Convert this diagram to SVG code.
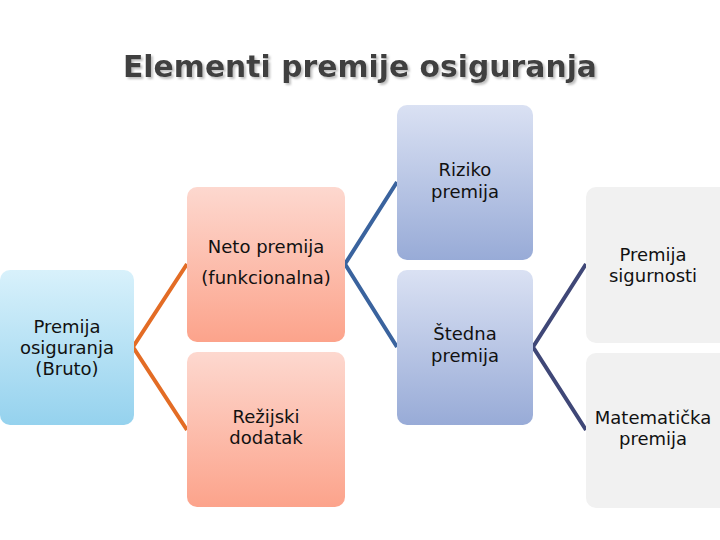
<svg xmlns="http://www.w3.org/2000/svg" width="720" height="540" viewBox="0 0 720 540">
<defs>
<linearGradient id="gBlue" x1="0" y1="0" x2="0" y2="1"><stop offset="0" stop-color="#d8f1fb"/><stop offset="1" stop-color="#95d2ee"/></linearGradient>
<linearGradient id="gSalmon" x1="0" y1="0" x2="0" y2="1"><stop offset="0" stop-color="#fdd8cf"/><stop offset="1" stop-color="#fca38b"/></linearGradient>
<linearGradient id="gPeri" x1="0" y1="0" x2="0" y2="1"><stop offset="0" stop-color="#dae1f3"/><stop offset="1" stop-color="#98abd7"/></linearGradient>
<filter id="sh" x="-5%" y="-20%" width="110%" height="150%"><feDropShadow dx="2" dy="2" stdDeviation="1" flood-color="#b0b0b0" flood-opacity="0.8"/></filter>
</defs>
<style>
.t{font-family:"DejaVu Sans","Verdana",sans-serif;font-size:18px;fill:#111;text-anchor:middle}
.title{font-family:"DejaVu Sans","Verdana",sans-serif;font-size:31px;font-weight:bold;fill:#3f3f3f;text-anchor:middle}
.c{fill:none;stroke-width:4;stroke-linejoin:miter}
</style>
<rect width="720" height="540" fill="#fff"/>
<text class="title" x="360" y="77" textLength="474" lengthAdjust="spacingAndGlyphs" filter="url(#sh)">Elementi premije osiguranja</text>
<g id="connectors">
<polyline class="c" stroke="#e36c25" points="187,264 133,347 187,430"/>
<polyline class="c" stroke="#3a639e" points="397,182 345,264 397,347"/>
<polyline class="c" stroke="#3f4777" points="586,264 533,347 586,430"/>
</g>
<g id="bruto">
<rect x="0" y="270" width="134" height="155" rx="10" fill="url(#gBlue)"/>
<text class="t" x="67" y="333">Premija</text>
<text class="t" x="67" y="354">osiguranja</text>
<text class="t" x="67" y="375">(Bruto)</text>
</g>
<g id="neto">
<rect x="187" y="187" width="158" height="155" rx="10" fill="url(#gSalmon)"/>
<text class="t" x="266" y="253">Neto premija</text>
<text class="t" x="266" y="284">(funkcionalna)</text>
</g>
<g id="rezijski">
<rect x="187" y="352" width="158" height="155" rx="10" fill="url(#gSalmon)"/>
<text class="t" x="266" y="423">Režijski</text>
<text class="t" x="266" y="444">dodatak</text>
</g>
<g id="riziko">
<rect x="397" y="105" width="136" height="155" rx="10" fill="url(#gPeri)"/>
<text class="t" x="465" y="176">Riziko</text>
<text class="t" x="465" y="198">premija</text>
</g>
<g id="stedna">
<rect x="397" y="270" width="136" height="155" rx="10" fill="url(#gPeri)"/>
<text class="t" x="465" y="340">Štedna</text>
<text class="t" x="465" y="362">premija</text>
</g>
<g id="sigurnosti">
<rect x="586" y="187" width="145" height="156" rx="10" fill="#f1f1f1"/>
<text class="t" x="653" y="261">Premija</text>
<text class="t" x="653" y="282">sigurnosti</text>
</g>
<g id="matematicka">
<rect x="586" y="353" width="145" height="155" rx="10" fill="#f1f1f1"/>
<text class="t" x="653" y="424">Matematička</text>
<text class="t" x="653" y="445">premija</text>
</g>
</svg>
